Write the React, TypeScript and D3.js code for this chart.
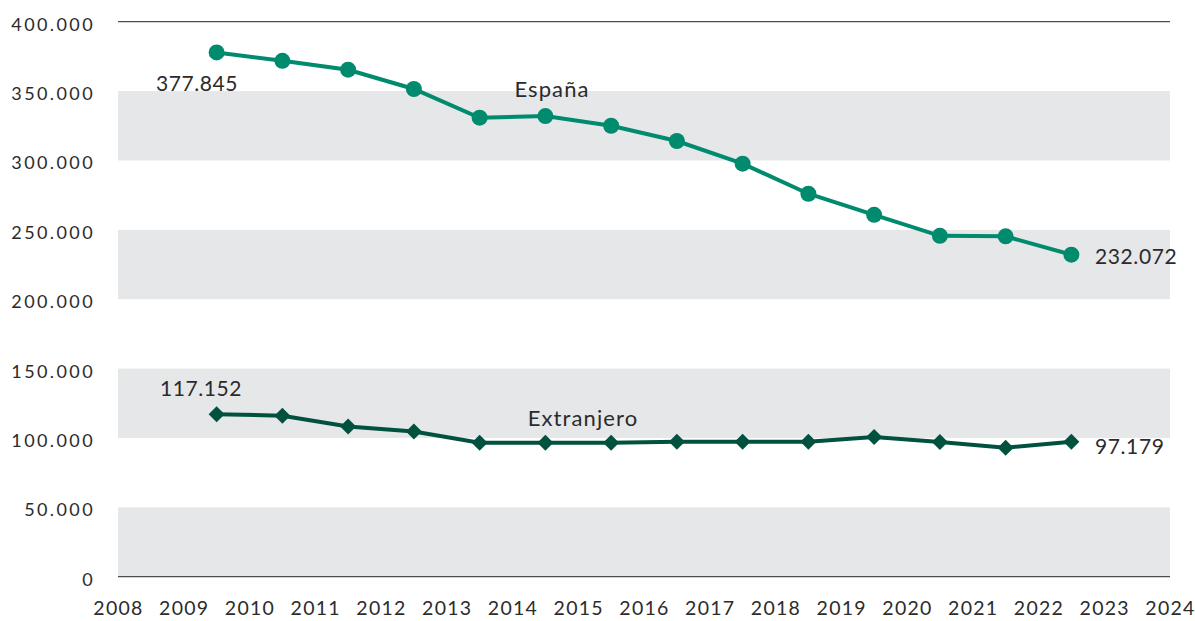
import React from "react";
import * as d3 from "d3";

const years = [2009, 2010, 2011, 2012, 2013, 2014, 2015, 2016, 2017, 2018, 2019, 2020, 2021, 2022];
const espana = [377845, 371800, 365400, 351500, 330800, 332000, 325000, 314000, 297700, 276000, 260800, 245700, 245300, 232072];
const extranjero = [117152, 116000, 108200, 104600, 96600, 96600, 96500, 97300, 97300, 97300, 100600, 97100, 93000, 97179];
const yTicks = [0, 50000, 100000, 150000, 200000, 250000, 300000, 350000, 400000];
const xTicks = d3.range(2008, 2025);

const W = 1195, H = 621;
const FONT = "Lato, 'Open Sans', sans-serif";

export default function App() {
  const x = d3.scaleLinear().domain([2008, 2024]).range([118, 1170]);
  const y = d3.scaleLinear().domain([0, 400000]).range([576.7, 21.7]);
  const fmt = (v: number) => v === 0 ? "0" : d3.format(",.0f")(v).replace(/,/g, ".");
  const px = (yr: number) => x(yr + 0.5);
  const line = d3.line<number>().x((_, i) => px(years[i])).y(d => y(d));
  const bands = [[0, 50000], [100000, 150000], [200000, 250000], [300000, 350000]];
  const teal = "#008a6e";
  const dark = "#00523f";
  const txt = "#2b2b2b";
  return (
    <svg width={W} height={H} style={{ position: "absolute", left: 0, top: 0 }} fontFamily={FONT}>
      {bands.map(([a, b], i) => (
        <rect key={i} x={x(2008)} y={y(b)} width={x(2024) - x(2008)} height={y(a) - y(b)} fill="#e6e7e8" />
      ))}
      <line x1={x(2008)} x2={x(2024)} y1={y(400000)} y2={y(400000)} stroke="#4d4d4d" strokeWidth={1.3} />
      <line x1={x(2008)} x2={x(2024)} y1={y(0)} y2={y(0)} stroke="#4d4d4d" strokeWidth={1.3} />
      {yTicks.map(t => (
        <text key={t} x={95} y={y(t) + 9} textAnchor="end" fontSize={18} letterSpacing={2.4} fill={txt}>{fmt(t)}</text>
      ))}
      {xTicks.map(t => (
        <text key={t} x={x(t) + 0.5} y={615} textAnchor="middle" fontSize={19.5} letterSpacing={1.3} fill={txt}>{t}</text>
      ))}
      <path d={line(espana) || ""} fill="none" stroke={teal} strokeWidth={4} />
      {espana.map((v, i) => (
        <circle key={i} cx={px(years[i])} cy={y(v)} r={8} fill={teal} />
      ))}
      <path d={line(extranjero) || ""} fill="none" stroke={dark} strokeWidth={4} />
      {extranjero.map((v, i) => {
        const cx = px(years[i]), cy = y(v), s = 8;
        return <path key={i} d={`M${cx},${cy - s}L${cx + s},${cy}L${cx},${cy + s}L${cx - s},${cy}Z`} fill={dark} />;
      })}
      <g fontSize={21} letterSpacing={0.6} fill={txt}>
        <text x={197} y={90.5} textAnchor="middle">{fmt(espana[0])}</text>
        <text x={1095} y={264} textAnchor="start">{fmt(espana[espana.length - 1])}</text>
        <text x={201} y={396} textAnchor="middle">{fmt(extranjero[0])}</text>
        <text x={1095} y={454} textAnchor="start">{fmt(extranjero[extranjero.length - 1])}</text>
      </g>
      <g fontSize={22} letterSpacing={1.1} fill={txt}>
        <text x={552} y={96.5} textAnchor="middle">España</text>
        <text x={583} y={426} textAnchor="middle">Extranjero</text>
      </g>
    </svg>
  );
}
